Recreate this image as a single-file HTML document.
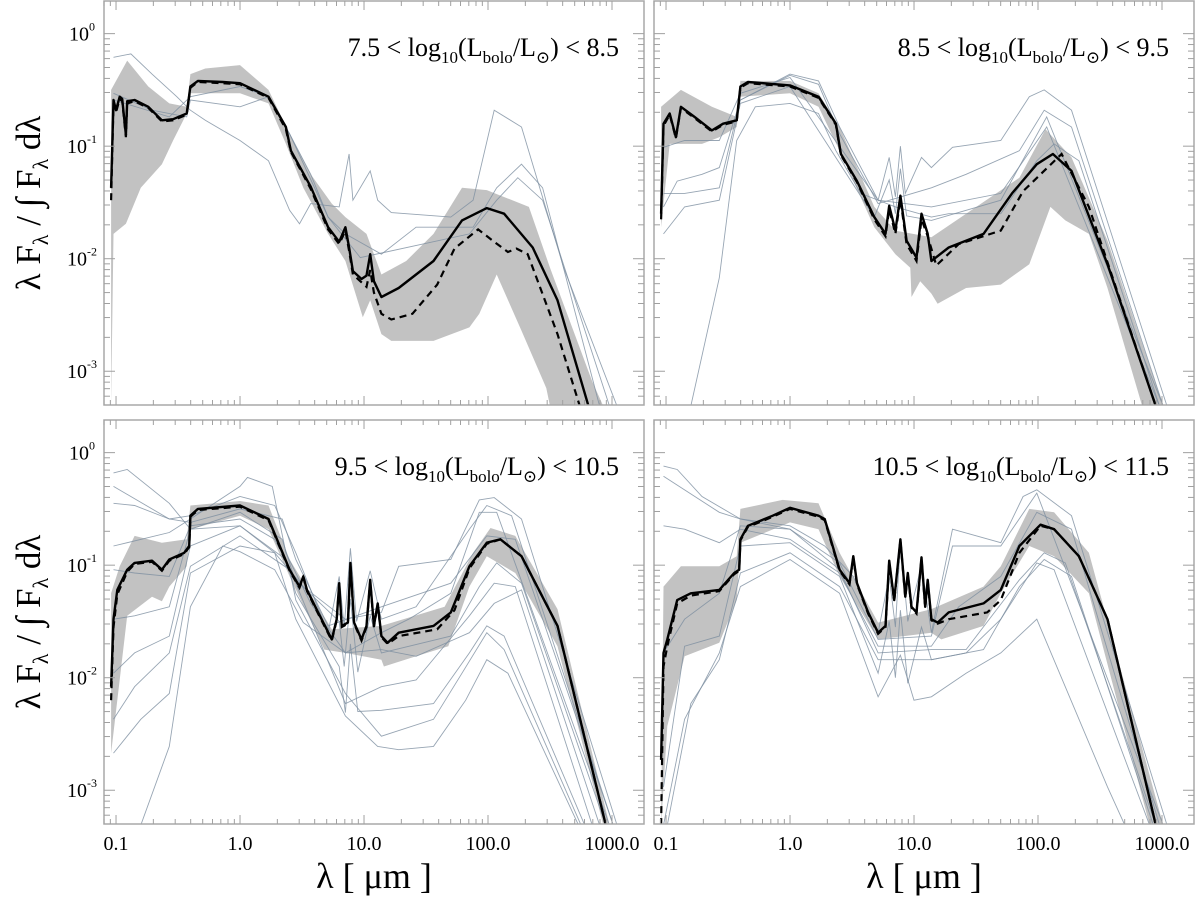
<!DOCTYPE html>
<html><head><meta charset="utf-8">
<style>
html,body{margin:0;padding:0;background:#fff;}
svg{display:block;font-family:"Liberation Serif","DejaVu Serif",serif;}
</style></head>
<body>
<svg id="fig" width="1200" height="901" viewBox="0 0 1200 901" xmlns="http://www.w3.org/2000/svg">
<defs id="defs"></defs>
<g id="root"></g>
<text x="374" y="888" font-size="36" text-anchor="middle">λ [ μm ]</text>
<text x="924" y="888" font-size="36" text-anchor="middle">λ [ μm ]</text>
<text transform="translate(40,203) rotate(-90)" font-size="35" text-anchor="middle">λ F<tspan font-size="22" dy="8">λ</tspan><tspan dy="-8">  / ∫ F</tspan><tspan font-size="22" dy="8">λ</tspan><tspan dy="-8"> dλ</tspan></text>
<text transform="translate(40,622) rotate(-90)" font-size="35" text-anchor="middle">λ F<tspan font-size="22" dy="8">λ</tspan><tspan dy="-8">  / ∫ F</tspan><tspan font-size="22" dy="8">λ</tspan><tspan dy="-8"> dλ</tspan></text>
</svg>
<script>
// ---- data: pairs [log10(lambda/um), log10(lambda F_lambda / integral)] ----
const xTickLabels = ["0.1","1.0","10.0","100.0","1000.0"];
const xTickLogs = [-1,0,1,2,3];
const yTickLogs = [0,-1,-2,-3];
const panelTitles = [["7.5","8.5"],["8.5","9.5"],["9.5","10.5"],["10.5","11.5"]];

const med1 = [[-1.04,-1.37],[-1.02,-0.59],[-1.00,-0.68],[-0.97,-0.56],[-0.95,-0.58],[-0.92,-0.90],[-0.91,-0.60],[-0.85,-0.59],[-0.74,-0.65],[-0.63,-0.77],[-0.54,-0.76],[-0.43,-0.71],[-0.40,-0.47],[-0.34,-0.42],[-0.14,-0.43],[0,-0.44],[0.23,-0.56],[0.37,-0.83],[0.41,-1.04],[0.57,-1.36],[0.71,-1.72],[0.80,-1.85],[0.85,-1.72],[0.88,-1.90],[0.91,-2.11],[0.98,-2.18],[1.02,-2.15],[1.05,-1.96],[1.08,-2.20],[1.14,-2.34],[1.28,-2.26],[1.56,-2.02],[1.79,-1.66],[1.99,-1.55],[2.13,-1.60],[2.36,-1.90],[2.56,-2.37],[2.81,-3.31]];
const mean1 = [[-1.04,-1.48],[-1.02,-0.62],[-1.00,-0.70],[-0.97,-0.58],[-0.95,-0.60],[-0.92,-0.92],[-0.91,-0.62],[-0.85,-0.60],[-0.74,-0.66],[-0.63,-0.78],[-0.54,-0.77],[-0.43,-0.72],[-0.40,-0.48],[-0.34,-0.43],[-0.14,-0.44],[0,-0.45],[0.23,-0.57],[0.37,-0.85],[0.41,-1.05],[0.57,-1.38],[0.71,-1.74],[0.80,-1.87],[0.85,-1.75],[0.88,-1.93],[0.91,-2.14],[1.02,-2.25],[1.05,-2.10],[1.08,-2.30],[1.14,-2.49],[1.22,-2.54],[1.39,-2.49],[1.59,-2.23],[1.73,-1.91],[1.92,-1.74],[2.05,-1.85],[2.16,-1.94],[2.23,-1.91],[2.32,-1.96],[2.56,-2.67],[2.74,-3.31]];
const bandUp1 = [[-1.04,-0.50],[-0.91,-0.24],[-0.74,-0.47],[-0.57,-0.62],[-0.43,-0.65],[-0.40,-0.36],[-0.28,-0.31],[0,-0.28],[0.23,-0.50],[0.40,-0.89],[0.57,-1.25],[0.74,-1.51],[0.85,-1.63],[1.02,-1.78],[1.14,-2.14],[1.34,-2.02],[1.56,-1.78],[1.79,-1.37],[1.99,-1.39],[2.33,-1.54],[2.50,-2.08],[2.84,-3.09],[2.93,-3.31]];
const bandLo1 = [[-1.04,-3.31],[-1.02,-1.78],[-0.92,-1.69],[-0.80,-1.37],[-0.63,-1.16],[-0.54,-0.95],[-0.43,-0.71],[-0.40,-0.53],[0,-0.53],[0.23,-0.62],[0.37,-0.98],[0.51,-1.37],[0.71,-1.78],[0.85,-2.02],[0.99,-2.52],[1.05,-2.37],[1.14,-2.67],[1.22,-2.73],[1.56,-2.73],[1.85,-2.61],[1.93,-2.49],[2.07,-2.14],[2.27,-2.64],[2.47,-3.15],[2.50,-3.31]];
const thin1a = [[-1.02,-0.21],[-0.88,-0.18],[-0.71,-0.36],[-0.51,-0.56],[-0.40,-0.68],[-0.28,-0.77],[0,-0.95],[0.23,-1.13],[0.40,-1.57],[0.48,-1.69],[0.57,-1.51],[0.80,-1.54],[0.88,-1.07],[0.91,-1.48],[1.05,-1.22],[1.11,-1.48],[1.22,-1.59],[1.70,-1.63],[1.88,-1.48],[2.05,-0.68],[2.27,-0.83],[2.61,-2.08],[3.04,-3.31]];
const thin1b = [[-1.02,-0.53],[-0.71,-0.68],[-0.43,-0.74],[-0.40,-0.59],[0,-0.65],[0.23,-0.56],[0.40,-0.89],[0.57,-1.25],[0.71,-1.63],[0.85,-1.78],[1.14,-1.96],[1.42,-1.72],[1.88,-1.72],[2.07,-1.37],[2.27,-1.16],[2.44,-1.37],[2.90,-3.31]];
const thin1c = [[-1.02,-0.59],[-0.57,-0.74],[-0.40,-0.56],[0,-0.47],[0.23,-0.56],[0.40,-0.89],[0.71,-1.63],[0.97,-1.99],[1.85,-1.78],[2.07,-1.48],[2.24,-1.28],[2.44,-1.48],[2.98,-3.31]];

const med2 = [[-1.04,-1.60],[-1.02,-0.80],[-0.97,-0.71],[-0.92,-0.92],[-0.88,-0.65],[-0.77,-0.74],[-0.63,-0.86],[-0.54,-0.80],[-0.43,-0.77],[-0.40,-0.47],[-0.34,-0.43],[0,-0.46],[0.23,-0.56],[0.37,-0.80],[0.41,-1.07],[0.54,-1.31],[0.68,-1.63],[0.77,-1.78],[0.80,-1.53],[0.85,-1.75],[0.89,-1.44],[0.94,-1.84],[1.02,-1.99],[1.06,-1.60],[1.11,-1.78],[1.14,-2.02],[1.28,-1.90],[1.56,-1.78],[1.79,-1.42],[1.99,-1.16],[2.12,-1.07],[2.27,-1.22],[2.56,-2.05],[2.95,-3.31]];
const mean2 = [[-1.04,-1.65],[-1.02,-0.82],[-0.97,-0.72],[-0.92,-0.93],[-0.88,-0.66],[-0.77,-0.75],[-0.63,-0.87],[-0.54,-0.81],[-0.43,-0.78],[-0.40,-0.48],[-0.34,-0.44],[0,-0.47],[0.23,-0.57],[0.37,-0.81],[0.41,-1.08],[0.54,-1.32],[0.68,-1.65],[0.77,-1.80],[0.80,-1.56],[0.85,-1.78],[0.89,-1.47],[0.94,-1.87],[1.02,-2.02],[1.06,-1.65],[1.11,-1.80],[1.18,-2.06],[1.36,-1.87],[1.70,-1.75],[1.88,-1.40],[2.19,-1.07],[2.41,-1.54],[2.95,-3.31]];
const bandUp2 = [[-1.04,-0.65],[-0.88,-0.50],[-0.63,-0.65],[-0.43,-0.74],[-0.40,-0.42],[0,-0.42],[0.23,-0.53],[0.40,-0.83],[0.68,-1.54],[0.85,-1.75],[1.14,-1.81],[1.42,-1.60],[1.85,-1.28],[2.06,-0.85],[2.27,-1.10],[2.56,-1.84],[3.01,-3.31]];
const bandLo2 = [[-1.04,-1.72],[-0.97,-0.98],[-0.71,-0.98],[-0.57,-0.92],[-0.43,-0.83],[-0.40,-0.56],[0,-0.53],[0.23,-0.65],[0.40,-1.04],[0.68,-1.72],[0.85,-1.96],[0.97,-2.08],[0.98,-2.34],[1.05,-2.20],[1.14,-2.31],[1.19,-2.40],[1.42,-2.26],[1.70,-2.23],[1.93,-2.05],[2.10,-1.54],[2.22,-1.66],[2.41,-1.78],[2.56,-2.26],[2.84,-3.31]];
const thin2a = [[-0.80,-3.31],[-0.57,-2.17],[-0.43,-0.95],[-0.28,-0.65],[0,-0.62],[0.23,-0.71],[0.37,-1.04],[0.57,-1.42],[0.85,-1.54],[1.14,-1.63],[1.28,-1.60],[1.70,-1.60],[1.99,-1.13],[2.13,-0.98],[2.33,-1.13],[2.98,-3.31]];
const thin2b = [[-1.02,-1.54],[-0.91,-1.31],[-0.71,-1.25],[-0.57,-1.19],[-0.40,-0.59],[0,-0.36],[0.23,-0.42],[0.40,-0.83],[0.71,-1.48],[0.80,-1.10],[0.85,-1.45],[0.89,-1.00],[0.93,-1.42],[1.06,-1.10],[1.14,-1.19],[1.31,-1.01],[1.70,-0.95],[1.93,-0.56],[2.05,-0.50],[2.27,-0.68],[3.04,-3.31]];
const thin2c = [[-1.02,-1.42],[-0.85,-1.42],[-0.57,-1.37],[-0.40,-0.59],[0,-0.37],[0.23,-0.45],[0.40,-0.89],[0.71,-1.51],[1.14,-1.37],[1.42,-1.25],[1.85,-1.04],[2.05,-0.68],[2.27,-0.83],[3.01,-3.31]];
const thin2d = [[-1.02,-1.78],[-0.85,-1.54],[-0.57,-1.48],[-0.40,-0.62],[0,-0.47],[0.68,-1.63],[0.80,-1.30],[0.85,-1.60],[0.89,-1.20],[0.94,-1.62],[1.14,-1.66],[1.70,-1.48],[2.07,-0.74],[3.01,-3.31]];
const thin2e = [[-1.02,-1.01],[-0.85,-0.95],[-0.57,-0.95],[-0.40,-0.53],[0,-0.39],[0.71,-1.48],[1.14,-1.54],[1.70,-1.42],[2.07,-0.83],[2.98,-3.31]];

const med3 = [[-1.04,-2.08],[-1.02,-1.48],[-0.99,-1.22],[-0.91,-1.04],[-0.85,-0.98],[-0.71,-0.96],[-0.63,-1.04],[-0.57,-0.95],[-0.45,-0.89],[-0.41,-0.83],[-0.40,-0.56],[-0.34,-0.50],[0,-0.47],[0.23,-0.59],[0.40,-1.04],[0.48,-1.19],[0.51,-1.10],[0.54,-1.22],[0.63,-1.42],[0.74,-1.66],[0.78,-1.48],[0.80,-1.16],[0.82,-1.54],[0.87,-1.51],[0.89,-0.98],[0.92,-1.51],[0.98,-1.66],[1.02,-1.54],[1.05,-1.13],[1.08,-1.54],[1.11,-1.34],[1.14,-1.63],[1.19,-1.69],[1.28,-1.60],[1.56,-1.54],[1.70,-1.42],[1.85,-1.01],[1.99,-0.80],[2.10,-0.77],[2.27,-0.92],[2.56,-1.54],[2.95,-3.31]];
const mean3 = [[-1.04,-2.20],[-1.02,-1.55],[-0.99,-1.26],[-0.91,-1.06],[-0.85,-0.99],[-0.71,-0.97],[-0.63,-1.05],[-0.57,-0.96],[-0.45,-0.90],[-0.41,-0.84],[-0.40,-0.57],[-0.34,-0.51],[0,-0.48],[0.23,-0.60],[0.40,-1.05],[0.48,-1.20],[0.51,-1.11],[0.54,-1.23],[0.63,-1.43],[0.74,-1.67],[0.78,-1.49],[0.80,-1.17],[0.82,-1.55],[0.87,-1.52],[0.89,-0.99],[0.92,-1.52],[0.98,-1.67],[1.02,-1.55],[1.05,-1.14],[1.08,-1.55],[1.11,-1.35],[1.14,-1.64],[1.19,-1.70],[1.28,-1.63],[1.59,-1.57],[1.73,-1.40],[1.85,-1.03],[1.99,-0.81],[2.10,-0.77],[2.27,-0.92],[2.56,-1.54],[2.95,-3.31]];
const bandUp3 = [[-1.04,-1.25],[-0.97,-1.01],[-0.85,-0.74],[-0.63,-0.80],[-0.43,-0.77],[-0.40,-0.47],[0,-0.43],[0.23,-0.47],[0.40,-0.95],[0.74,-1.57],[1.14,-1.54],[1.65,-1.37],[1.88,-0.89],[2.02,-0.67],[2.22,-0.74],[2.56,-1.39],[2.98,-3.31]];
const bandLo3 = [[-1.04,-2.67],[-0.91,-1.45],[-0.71,-1.28],[-0.63,-1.32],[-0.57,-1.19],[-0.43,-1.01],[-0.40,-0.68],[0,-0.56],[0.23,-0.68],[0.40,-1.10],[0.68,-1.75],[0.85,-1.78],[1.14,-1.84],[1.16,-1.90],[1.42,-1.81],[1.68,-1.72],[1.85,-1.19],[1.99,-0.92],[2.22,-1.07],[2.56,-1.72],[2.93,-3.31]];
const thin3a = [[-1.02,-0.18],[-0.91,-0.15],[-0.57,-0.45],[-0.40,-0.68],[0,-0.65],[0.28,-0.89],[0.51,-1.19],[0.85,-1.48],[1.14,-1.42],[1.28,-1.01],[1.70,-0.95],[1.93,-0.42],[2.05,-0.40],[2.27,-0.59],[3.04,-3.31]];
const thin3b = [[-1.02,-0.30],[-0.57,-0.59],[-0.40,-0.56],[0,-0.39],[0.28,-0.47],[0.45,-0.89],[0.71,-1.60],[0.80,-1.10],[0.84,-1.55],[0.89,-0.85],[0.94,-1.50],[1.05,-1.05],[1.14,-1.48],[1.42,-1.37],[1.85,-0.68],[1.99,-0.47],[2.19,-0.56],[3.01,-3.31]];
const thin3c = [[-1.02,-0.83],[-0.57,-0.71],[-0.40,-0.59],[0,-0.30],[0.06,-0.22],[0.26,-0.30],[0.37,-0.89],[0.57,-1.34],[0.85,-1.78],[1.14,-1.60],[1.36,-1.48],[1.70,-1.25],[1.93,-0.53],[2.07,-0.53],[2.98,-3.31]];
const thin3d = [[-1.02,-1.04],[-0.85,-1.07],[-0.57,-1.10],[-0.40,-0.65],[0,-0.59],[0.28,-0.77],[0.45,-1.13],[0.80,-1.50],[0.84,-1.90],[0.89,-1.30],[0.95,-1.95],[1.05,-1.45],[1.14,-1.78],[1.70,-1.63],[1.93,-1.19],[2.07,-0.98],[2.27,-1.16],[2.95,-3.31]];
const thin3e = [[-1.02,-1.48],[-0.85,-1.45],[-0.57,-1.37],[-0.40,-0.68],[0,-0.53],[0.34,-0.77],[0.45,-1.16],[0.85,-2.23],[1.14,-2.08],[1.42,-2.02],[1.85,-1.45],[2.05,-1.16],[2.22,-1.19],[2.84,-3.31]];
const thin3f = [[-1.02,-1.96],[-0.85,-1.78],[-0.57,-1.63],[-0.40,-0.83],[0,-0.65],[0.37,-0.95],[0.45,-1.25],[0.80,-1.90],[0.85,-2.31],[0.89,-1.70],[0.95,-2.30],[1.14,-2.29],[1.56,-2.23],[1.85,-1.78],[1.99,-1.54],[2.13,-1.63],[2.78,-3.31]];
const thin3g = [[-1.02,-2.37],[-0.85,-2.08],[-0.57,-1.78],[-0.40,-1.01],[0,-0.74],[0.40,-1.04],[0.45,-1.31],[0.85,-2.14],[1.14,-2.52],[1.56,-2.37],[1.79,-1.96],[1.99,-1.60],[2.13,-1.75],[2.75,-3.31]];
const thin3h = [[-1.02,-2.67],[-0.80,-2.37],[-0.57,-2.14],[-0.40,-1.07],[0,-0.83],[0.28,-0.89],[0.45,-1.48],[0.85,-2.34],[1.11,-2.61],[1.28,-2.64],[1.56,-2.61],[1.82,-2.20],[1.99,-1.84],[2.16,-1.96],[2.73,-3.31]];
const thin3i = [[-0.80,-3.31],[-0.57,-2.61],[-0.40,-1.37],[-0.14,-0.83],[0,-0.88],[0.28,-1.04],[0.51,-1.51],[0.85,-1.78],[1.14,-1.75],[1.42,-1.81],[1.85,-1.60],[2.05,-1.34],[2.27,-1.22],[2.90,-3.31]];
const thin3j = [[-1.02,-0.45],[-0.85,-0.47],[-0.57,-0.59],[-0.40,-0.62],[0,-0.50],[0.34,-0.59],[0.45,-0.95],[0.71,-1.54],[1.14,-1.37],[1.70,-1.16],[1.99,-0.74],[2.22,-0.77],[3.01,-3.31]];

const med4 = [[-1.04,-2.73],[-1.02,-1.78],[-0.99,-1.66],[-0.91,-1.31],[-0.80,-1.25],[-0.57,-1.22],[-0.45,-1.07],[-0.41,-1.04],[-0.40,-0.77],[-0.34,-0.65],[-0.14,-0.56],[0,-0.49],[0.23,-0.56],[0.28,-0.59],[0.40,-1.04],[0.48,-1.16],[0.51,-0.92],[0.54,-1.16],[0.63,-1.42],[0.71,-1.60],[0.77,-1.54],[0.80,-0.96],[0.84,-1.31],[0.89,-0.77],[0.93,-1.28],[0.95,-1.07],[0.98,-1.37],[1.02,-1.42],[1.06,-0.93],[1.09,-1.37],[1.11,-1.13],[1.14,-1.48],[1.19,-1.51],[1.28,-1.42],[1.56,-1.34],[1.70,-1.22],[1.85,-0.83],[2.02,-0.64],[2.13,-0.68],[2.33,-0.92],[2.56,-1.48],[2.95,-3.31]];
const mean4 = [[-1.04,-3.31],[-1.02,-1.90],[-0.99,-1.72],[-0.91,-1.34],[-0.80,-1.27],[-0.57,-1.23],[-0.45,-1.08],[-0.41,-1.05],[-0.40,-0.78],[-0.34,-0.66],[-0.14,-0.57],[0,-0.50],[0.23,-0.57],[0.28,-0.60],[0.40,-1.05],[0.48,-1.17],[0.51,-0.93],[0.54,-1.17],[0.63,-1.43],[0.71,-1.61],[0.77,-1.55],[0.80,-0.97],[0.84,-1.32],[0.89,-0.78],[0.93,-1.29],[0.95,-1.08],[0.98,-1.38],[1.02,-1.43],[1.06,-0.94],[1.09,-1.38],[1.11,-1.14],[1.14,-1.49],[1.19,-1.52],[1.28,-1.48],[1.59,-1.42],[1.70,-1.31],[1.85,-0.89],[2.02,-0.65],[2.13,-0.68],[2.33,-0.92],[2.56,-1.48],[2.95,-3.31]];
const bandUp4 = [[-1.02,-1.19],[-0.88,-1.01],[-0.57,-1.01],[-0.43,-0.92],[-0.40,-0.50],[-0.06,-0.42],[0.23,-0.45],[0.40,-0.89],[0.71,-1.51],[1.14,-1.39],[1.56,-1.19],[1.70,-1.01],[1.93,-0.50],[2.13,-0.53],[2.41,-0.89],[3.01,-3.31]];
const bandLo4 = [[-1.04,-3.31],[-0.99,-2.43],[-0.85,-1.81],[-0.57,-1.69],[-0.43,-1.31],[-0.40,-0.80],[0,-0.62],[0.23,-0.68],[0.40,-1.10],[0.71,-1.66],[1.14,-1.60],[1.22,-1.66],[1.56,-1.54],[1.70,-1.25],[1.93,-0.83],[2.13,-0.92],[2.41,-1.25],[2.90,-3.31]];
const thin4a = [[-1.02,-0.12],[-0.91,-0.15],[-0.71,-0.39],[-0.40,-0.59],[0,-0.65],[0.28,-0.83],[0.51,-1.10],[0.71,-1.60],[0.80,-1.10],[0.85,-1.55],[0.89,-0.80],[0.95,-1.50],[1.06,-1.00],[1.14,-1.60],[1.31,-0.68],[1.70,-0.80],[1.88,-0.39],[1.99,-0.33],[2.27,-0.56],[3.04,-3.31]];
const thin4b = [[-1.02,-0.21],[-0.57,-0.53],[-0.40,-0.59],[0,-0.68],[0.40,-0.98],[0.71,-1.66],[1.14,-1.63],[1.31,-0.83],[1.70,-0.83],[1.99,-0.36],[3.01,-3.31]];
const thin4c = [[-1.02,-0.65],[-0.85,-0.68],[-0.57,-0.80],[-0.40,-0.68],[0,-0.77],[0.40,-1.07],[0.71,-1.72],[1.14,-1.72],[1.36,-1.37],[1.70,-1.10],[1.99,-0.53],[2.27,-0.68],[2.98,-3.31]];
const thin4d = [[-1.02,-2.97],[-0.85,-1.72],[-0.57,-1.63],[-0.40,-0.83],[0,-0.80],[0.40,-1.10],[0.71,-1.96],[0.80,-1.50],[0.85,-2.00],[0.89,-1.40],[0.95,-2.05],[1.06,-1.55],[1.14,-1.84],[1.42,-1.78],[1.70,-1.48],[1.99,-0.98],[2.13,-1.04],[2.90,-3.31]];
const thin4e = [[-1.02,-3.31],[-0.85,-2.37],[-0.57,-1.78],[-0.40,-1.19],[0,-0.95],[0.40,-1.25],[0.71,-2.17],[0.89,-1.80],[1.00,-2.20],[1.14,-2.17],[1.42,-1.96],[1.70,-1.78],[1.99,-1.48],[2.56,-2.97],[2.70,-3.31]];
const thin4f = [[-0.99,-3.31],[-0.80,-2.23],[-0.57,-1.84],[-0.40,-1.07],[0,-0.89],[0.40,-1.19],[0.71,-1.84],[1.14,-1.84],[1.56,-1.75],[1.85,-1.19],[2.05,-0.95],[2.27,-1.10],[2.93,-3.31]];
const thin4g = [[-1.02,-1.78],[-0.85,-1.48],[-0.57,-1.25],[-0.40,-0.65],[0,-0.68],[0.40,-1.04],[0.71,-1.78],[1.14,-1.75],[1.42,-1.75],[1.85,-1.13],[2.05,-0.89],[2.22,-0.98],[2.95,-3.31]];

const panels = [
 {med:med1, mean:mean1, up:bandUp1, lo:bandLo1, thin:[thin1a,thin1b,thin1c]},
 {med:med2, mean:mean2, up:bandUp2, lo:bandLo2, thin:[thin2a,thin2b,thin2c,thin2d,thin2e]},
 {med:med3, mean:mean3, up:bandUp3, lo:bandLo3, thin:[thin3a,thin3b,thin3c,thin3d,thin3e,thin3f,thin3g,thin3h,thin3i,thin3j]},
 {med:med4, mean:mean4, up:bandUp4, lo:bandLo4, thin:[thin4a,thin4b,thin4c,thin4d,thin4e,thin4f,thin4g]}
];

// ---- layout ----
const NS = "http://www.w3.org/2000/svg";
const PW = 540, PH = 404;
const origins = [[104,1],[654,1],[104,420],[654,420]];
const XMIN = -1.097, XMAX = 3.258, YMAX = 0.29, YMIN = -3.30;
function mk(tag, attrs, parent){const e=document.createElementNS(NS,tag);for(const k in attrs)e.setAttribute(k,attrs[k]);parent.appendChild(e);return e;}
const root = document.getElementById('root');
const defs = document.getElementById('defs');

panels.forEach((p, i) => {
  const [x0, y0] = origins[i];
  const sx = v => x0 + (v - XMIN) / (XMAX - XMIN) * PW;
  const sy = v => y0 + (YMAX - v) / (YMAX - YMIN) * PH;
  const pathOf = arr => arr.map((d,j)=>(j?'L':'M')+sx(d[0]).toFixed(1)+','+sy(d[1]).toFixed(1)).join('');
  const g = mk('g', {}, root);
  
  
  const cp = mk('clipPath', {id:'clip'+i}, defs);
  mk('rect', {x:x0, y:y0, width:PW, height:PH}, cp);
  const plot = mk('g', {'clip-path':'url(#clip'+i+')'}, g);
  const bandD = pathOf(p.up) + p.lo.slice().reverse().map(d=>'L'+sx(d[0]).toFixed(1)+','+sy(d[1]).toFixed(1)).join('') + 'Z';
  const band = mk('path', {d:bandD, fill:'#c2c2c2', stroke:'none'}, plot);
  
  
  p.thin.forEach((t) => {
    const l = mk('path', {d:pathOf(t), fill:'none', stroke:'#7d8ea0', 'stroke-width':'0.9', 'stroke-opacity':'0.8'}, plot);
    
    
  });
  const mean = mk('path', {d:pathOf(p.mean), fill:'none', stroke:'#000', 'stroke-width':'2.2', 'stroke-dasharray':'7,5'}, plot);
  
  
  const med = mk('path', {d:pathOf(p.med), fill:'none', stroke:'#000', 'stroke-width':'2.4', 'stroke-linejoin':'round'}, plot);
  
  
  const fr = mk('rect', {x:x0, y:y0, width:PW, height:PH, fill:'none', stroke:'#a8a8a8', 'stroke-width':'1.5'}, g);
  
  
  const tk = mk('g', {stroke:'#a0a0a0', 'stroke-width':'1'}, g);
  for (let e = -2; e <= 3; e++) for (let m = 1; m <= 9; m++) {
    const v = e + Math.log10(m);
    if (v < XMIN || v > XMAX) continue;
    const L = m === 1 ? 9 : 5, X = sx(v);
    mk('line', {x1:X, y1:y0+PH, x2:X, y2:y0+PH-L}, tk);
    mk('line', {x1:X, y1:y0, x2:X, y2:y0+L}, tk);
  }
  for (let e = -4; e <= 0; e++) for (let m = 1; m <= 9; m++) {
    const v = e + Math.log10(m);
    if (v < YMIN || v > YMAX) continue;
    const L = m === 1 ? 11 : 6, Y = sy(v);
    mk('line', {x1:x0, y1:Y, x2:x0+L, y2:Y}, tk);
    mk('line', {x1:x0+PW, y1:Y, x2:x0+PW-L, y2:Y}, tk);
  }
  if (i % 2 === 0) {
    yTickLogs.forEach((v) => {
      const t = mk('text', {x:x0-22, y:sy(v)+7, 'font-size':'20', 'text-anchor':'middle'}, g);
      
      
      t.textContent = '10';
      const s = mk('tspan', {'font-size':'12', dy:'-10'}, t);
      s.textContent = String(v === 0 ? 0 : v);
    });
  }
  if (i >= 2) {
    xTickLogs.forEach((v, j) => {
      const t = mk('text', {x:sx(v), y:850, 'font-size':'20', 'text-anchor':'middle'}, g);
      
      
      t.textContent = xTickLabels[j];
    });
  }
  const tt = mk('text', {x:x0+515, y:y0+55, 'font-size':'26', 'text-anchor':'end'}, g);
  
  
  const parts = [[panelTitles[i][0]+' < log',0,26],['10',7,17],['(L',-7,26],['bolo',7,17],['/L',-7,26],['⊙',7,17],[') < '+(panelTitles[i][1].length<4?' ':'')+panelTitles[i][1],-7,26]];
  parts.forEach(pt => { const s = mk('tspan', {dy:pt[1], 'font-size':pt[2]}, tt); s.textContent = pt[0]; });
});
</script>
</body></html>
